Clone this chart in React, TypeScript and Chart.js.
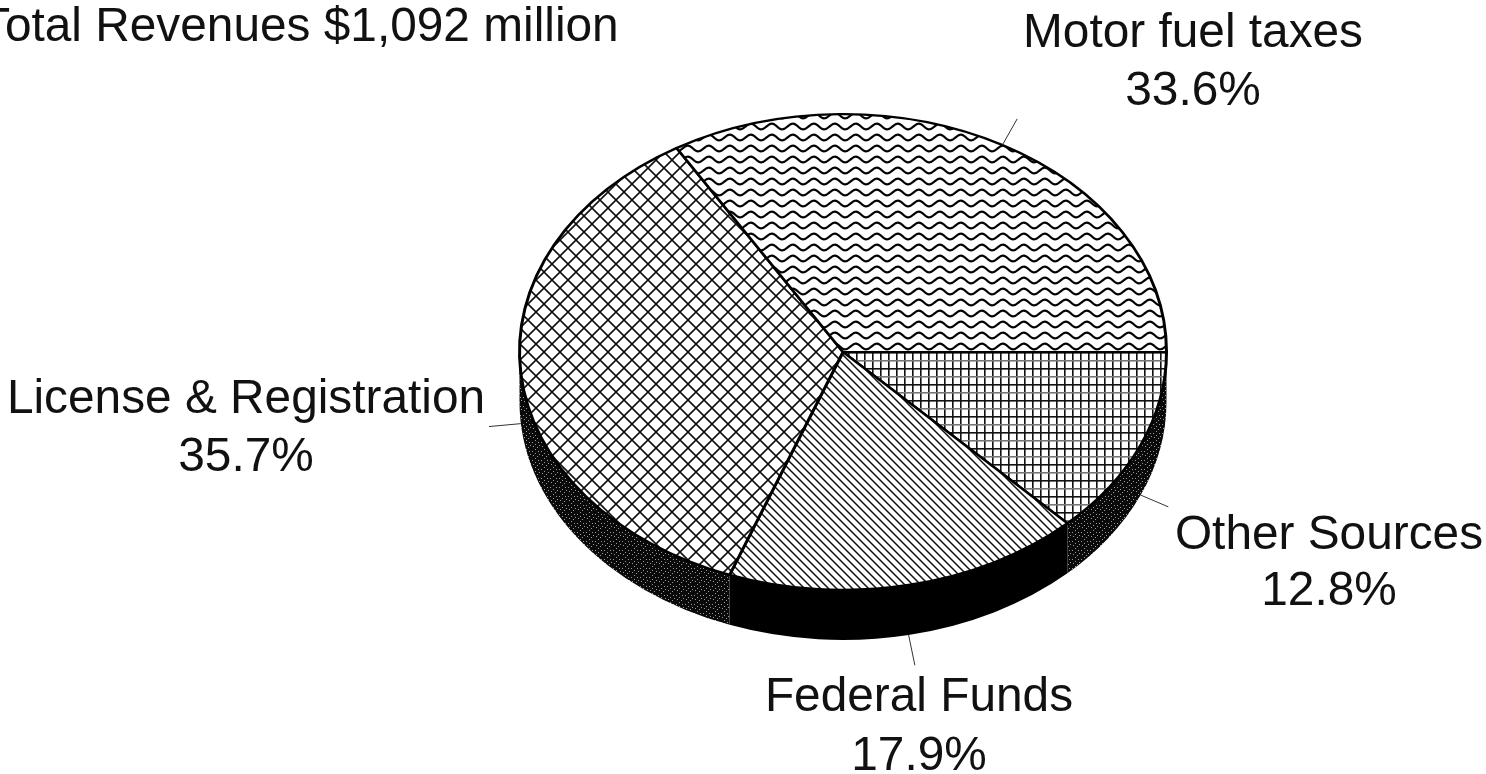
import React, { useEffect, useRef } from "react";
import { Chart, registerables } from "chart.js";

Chart.register(...registerables);

const categories = ["Other Sources", "Federal Funds", "License & Registration", "Motor fuel taxes"];
const shares = [12.8, 17.9, 35.7, 33.6];
const percentLabels = ["12.8%", "17.9%", "35.7%", "33.6%"];
const titleText = "Total Revenues $1,092 million";

const labelCentersX = [1329, 919, 246, 1193];
const labelBaselinesY = [549, 711, 413, 47];
const percentBaselinesY = [605, 770, 471, 105];
const leaderLengths = [30, 31, 32, 30];

const W = 1486;
const H = 774;
const Y_SQUASH = 239 / 325;
const DEPTH = 50;

function tile(w: number, h: number, paint: (c: CanvasRenderingContext2D) => void) {
  const cv = document.createElement("canvas");
  cv.width = w;
  cv.height = h;
  const c = cv.getContext("2d")!;
  c.fillStyle = "#fff";
  c.fillRect(0, 0, w, h);
  paint(c);
  return document.createElement("canvas").getContext("2d")!.createPattern(cv, "repeat")!;
}

function makePatterns() {
  const wave = tile(21, 11, (c) => {
    c.strokeStyle = "#000";
    c.lineWidth = 2.2;
    c.beginPath();
    for (let x = -1; x <= 22; x++) {
      const y = 5.5 + 2.8 * Math.sin((x / 21) * Math.PI * 2);
      if (x === -1) c.moveTo(x, y);
      else c.lineTo(x, y);
    }
    c.stroke();
  });
  const cross = tile(16, 16, (c) => {
    c.strokeStyle = "#111";
    c.lineWidth = 1.6;
    c.beginPath();
    c.moveTo(-2, -2);
    c.lineTo(18, 18);
    c.moveTo(18, -2);
    c.lineTo(-2, 18);
    c.stroke();
  });
  const diagonal = tile(8, 8, (c) => {
    c.strokeStyle = "#111";
    c.lineWidth = 1.5;
    c.beginPath();
    c.moveTo(-2, -2);
    c.lineTo(10, 10);
    c.moveTo(-6, 2);
    c.lineTo(6, 14);
    c.moveTo(2, -6);
    c.lineTo(14, 6);
    c.stroke();
  });
  const grid = tile(16, 16, (c) => {
    c.fillStyle = "#111";
    c.fillRect(0, 0, 16, 1.6);
    c.fillRect(0, 0, 1.6, 16);
    c.fillRect(8, 0, 1.6, 16);
    c.fillStyle = "#777";
    c.fillRect(0, 8, 16, 1.6);
  });
  const dither = tile(9, 9, (c) => {
    c.fillStyle = "#0a0a0a";
    c.fillRect(0, 0, 9, 9);
    c.fillStyle = "#9a9a9a";
    [[1, 1], [4, 3], [7, 1], [2, 5], [6, 6], [4, 8], [8, 4]].forEach(([x, y]) => c.fillRect(x, y, 1, 1));
  });
  return { wave, cross, diagonal, grid, dither };
}

export default function App() {
  const ref = useRef<HTMLCanvasElement>(null);

  useEffect(() => {
    document.body.style.margin = "0";
    document.body.style.background = "#fff";
    const p = makePatterns();
    const faces = [p.grid, p.diagonal, p.cross, p.wave];
    const sides = [p.dither, "#000", p.dither, p.dither];

    const piePlugin = {
      id: "tiltedPie",
      beforeDatasetsDraw(chart: any) {
        const ctx: CanvasRenderingContext2D = chart.ctx;
        const arcs = chart.getDatasetMeta(0).data;
        const cx = arcs[0].x;
        const cy = arcs[0].y;
        const r = arcs[0].outerRadius;
        const ry = r * Y_SQUASH;
        // wall below the near half of the rim, with vertical seams
        arcs.forEach((a: any, i: number) => {
          const from = Math.max(a.startAngle, 0);
          const to = Math.min(a.endAngle, Math.PI);
          if (to <= from) return;
          ctx.fillStyle = sides[i] as any;
          ctx.beginPath();
          ctx.ellipse(cx, cy, r, ry, 0, from, to);
          ctx.ellipse(cx, cy + DEPTH, r, ry, 0, to, from, true);
          ctx.closePath();
          ctx.fill();
        });
        // keep hatch tiles at page scale while the pie is squashed
        const undo = new DOMMatrix().translate(0, cy).scale(1, 1 / Y_SQUASH).translate(0, -cy);
        faces.forEach((f) => f.setTransform(undo));
        ctx.save();
        ctx.translate(0, cy);
        ctx.scale(1, Y_SQUASH);
        ctx.translate(0, -cy);
      },
      afterDatasetsDraw(chart: any) {
        const ctx: CanvasRenderingContext2D = chart.ctx;
        ctx.restore();
        const arcs = chart.getDatasetMeta(0).data;
        ctx.strokeStyle = "#333";
        ctx.lineWidth = 1;
        arcs.forEach((a: any, i: number) => {
          const mid = (a.startAngle + a.endAngle) / 2;
          const dx = Math.cos(mid);
          const dy = Math.sin(mid);
          const x0 = a.x + a.outerRadius * dx;
          const y0 = a.y + a.outerRadius * Y_SQUASH * dy + (dy > 0 ? DEPTH : 0);
          ctx.beginPath();
          ctx.moveTo(x0, y0);
          ctx.lineTo(x0 + leaderLengths[i] * dx, y0 + leaderLengths[i] * dy);
          ctx.stroke();
        });
        ctx.fillStyle = "#111";
        ctx.font = '47.8px "Liberation Sans"';
        ctx.textBaseline = "alphabetic";
        ctx.textAlign = "center";
        categories.forEach((name, i) => {
          ctx.fillText(name, labelCentersX[i], labelBaselinesY[i]);
          ctx.fillText(percentLabels[i], labelCentersX[i], percentBaselinesY[i]);
        });
        ctx.textAlign = "left";
        ctx.fillText(titleText, -19, 41);
      },
    };

    const chart = new Chart(ref.current!, {
      type: "pie",
      data: {
        labels: categories,
        datasets: [
          {
            data: shares,
            backgroundColor: faces as any,
            borderColor: "#000",
            borderWidth: 3,
            hoverOffset: 0,
          },
        ],
      },
      options: {
        animation: false,
        responsive: false,
        rotation: 90,
        layout: { padding: { left: 518, right: 318, top: 0, bottom: 70 } },
        plugins: { legend: { display: false }, tooltip: { enabled: false }, title: { display: false } },
      },
      plugins: [piePlugin as any],
    });
    return () => chart.destroy();
  }, []);

  return (
    <div style={{ position: "absolute", left: 0, top: 0, width: W, height: H, background: "#fff" }}>
      <canvas ref={ref} width={W} height={H} style={{ display: "block" }} />
    </div>
  );
}
